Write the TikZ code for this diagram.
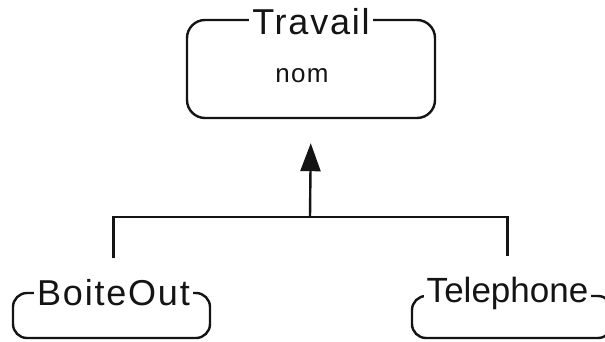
\documentclass[tikz,border=0pt]{standalone}
\usepackage{fontspec}
\setmainfont{Liberation Sans}
\newfontfamily\lblfont[LetterSpace=5]{Liberation Sans}
\usetikzlibrary{arrows.meta,positioning}
\definecolor{inkblack}{RGB}{20,20,20}

\begin{document}
\begin{tikzpicture}[
      x=1pt, y=-1pt,
      cls/.style={rectangle, rounded corners=18pt, draw=inkblack, line width=2.4pt,
                  inner sep=0pt},
      ttl/.style={fill=white, inner xsep=3pt, inner ysep=0pt, text=inkblack,
                  font=\lblfont\fontsize{36}{40}\selectfont},
      lnk/.style={draw=inkblack, line width=2.4pt},
    ]
    \clip (0,0) rectangle (605,341);
    \fill[white] (0,0) rectangle (605,341);
    % classes
    \node[cls, minimum width=248pt, minimum height=98pt] (travail) at (311,69) {};
    \node[ttl, yshift=-3pt] (travailT) at (travail.north) {Travail};
    \node[text=inkblack, font=\lblfont\fontsize{26}{30}\selectfont] (nom) at (302,76) {nom};
    \node[cls, rounded corners=14pt, minimum width=197pt, minimum height=45pt] (boite) at (111.5,315.5) {};
    \node[ttl, xshift=2pt, yshift=-1pt] (boiteT) at (boite.north) {BoiteOut};
    \node[cls, rounded corners=14pt, minimum width=200pt, minimum height=42pt] (tel) at (512,317) {};
    \node[ttl, font=\rmfamily\fontsize{35}{40}\selectfont, xshift=-4.5pt, yshift=1pt] (telT) at (tel.north) {Telephone};
    % inheritance
    \coordinate (join) at (310,217);
    \draw[lnk, shorten <=21pt, shorten >=21pt] (boiteT.north) |- (join) -| (telT.north);
    \draw[lnk, -{Triangle[length=28pt, width=20pt]}, shorten >=24pt] (join) -- (travail.south);
  \end{tikzpicture}
\end{document}
